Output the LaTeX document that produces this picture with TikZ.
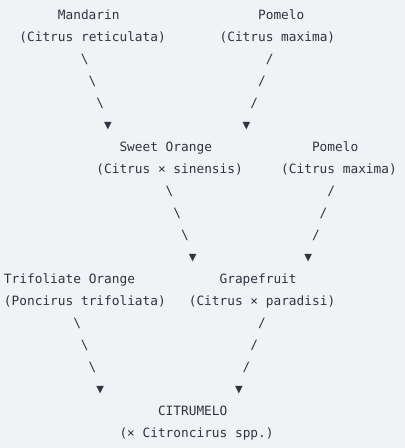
\documentclass[tikz,border=0pt]{standalone}
\usepackage{fontspec}
\newfontfamily\codefont{DejaVu Sans Mono}
\definecolor{bgc}{HTML}{F0F2F6}
\definecolor{fgc}{HTML}{31333F}
\newcommand\cellat[4]{\node[txt] (#1) at ({4+7.7*#2},{-19.5-22*#3}) {#4};}
\begin{document}
\begin{tikzpicture}[x=1pt,y=1pt,
  txt/.style={anchor=base west,inner sep=0pt,outer sep=0pt,text=fgc,
    font=\codefont\fontsize{12.8}{15}\selectfont}]
\fill[bgc] (0,0) rectangle (405,-448);
\useasboundingbox (0,0) rectangle (405,-448);
% row 0-1
\cellat{mand}{7}{0}{Mandarin}
\cellat{pom1}{33}{0}{Pomelo}
\cellat{mandl}{2}{1}{(Citrus reticulata)}
\cellat{pom1l}{28}{1}{(Citrus maxima)}
% rows 2-5
\cellat{a1}{10}{2}{\textbackslash}
\cellat{a2}{11}{3}{\textbackslash}
\cellat{a3}{12}{4}{\textbackslash}
\cellat{a4}{13}{5}{▼}
\cellat{b1}{34}{2}{/}
\cellat{b2}{33}{3}{/}
\cellat{b3}{32}{4}{/}
\cellat{b4}{31}{5}{▼}
% rows 6-7
\cellat{sweet}{15}{6}{Sweet Orange}
\cellat{pom2}{40}{6}{Pomelo}
\cellat{sweetl}{12}{7}{(Citrus × sinensis)}
\cellat{pom2l}{36}{7}{(Citrus maxima)}
% rows 8-11
\cellat{c1}{21}{8}{\textbackslash}
\cellat{c2}{22}{9}{\textbackslash}
\cellat{c3}{23}{10}{\textbackslash}
\cellat{c4}{24}{11}{▼}
\cellat{d1}{42}{8}{/}
\cellat{d2}{41}{9}{/}
\cellat{d3}{40}{10}{/}
\cellat{d4}{39}{11}{▼}
% rows 12-13
\cellat{tri}{0}{12}{Trifoliate Orange}
\cellat{grape}{28}{12}{Grapefruit}
\cellat{tril}{0}{13}{(Poncirus trifoliata)}
\cellat{grapel}{24}{13}{(Citrus × paradisi)}
% rows 14-17
\cellat{e1}{9}{14}{\textbackslash}
\cellat{e2}{10}{15}{\textbackslash}
\cellat{e3}{11}{16}{\textbackslash}
\cellat{e4}{12}{17}{▼}
\cellat{f1}{33}{14}{/}
\cellat{f2}{32}{15}{/}
\cellat{f3}{31}{16}{/}
\cellat{f4}{30}{17}{▼}
% rows 18-19
\cellat{citr}{20}{18}{CITRUMELO}
\cellat{citrl}{15}{19}{(× Citroncirus spp.)}
\end{tikzpicture}
\end{document}
